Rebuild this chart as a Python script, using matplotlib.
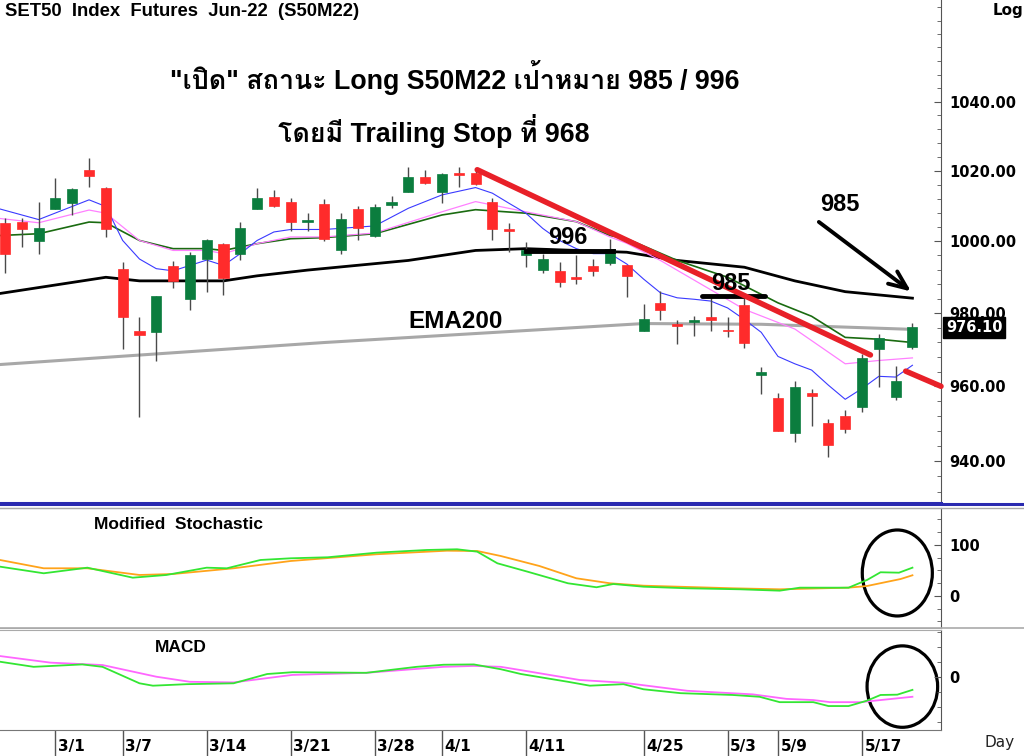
import numpy as np
import matplotlib
matplotlib.use('Agg')
import matplotlib.pyplot as plt
from matplotlib import font_manager as fm
from matplotlib.ft2font import FT2Font
from matplotlib.patches import Ellipse
from matplotlib.lines import Line2D
from matplotlib.ticker import FixedLocator, NullFormatter, FormatStrFormatter

# ---- data ----
# daily candles, index 0 = 2/24 ... 54 = 5/20
opens = [1005.2, 1005.4, 1000.0, 1009.0, 1010.7, 1020.2, 1015.1, 992.3, 975.0, 974.8,
         993.1, 984.0, 995.1, 999.2, 996.4, 1009.0, 1012.6, 1011.2, 1005.4, 1010.6,
         997.4, 1009.1, 1001.6, 1010.2, 1013.9, 1018.3, 1013.9, 1019.2, 1019.3, 1011.1,
         1003.2, 996.0, 991.8, 991.7, 989.9, 993.0, 993.8, 993.3, 975.1, 982.9,
         976.8, 977.4, 978.8, 975.4, 982.3, 963.1, 956.9, 947.4, 958.2, 950.2,
         951.9, 954.3, 970.2, 957.1, 970.8]
highs = [1006.5, 1006.5, 1011.2, 1018.0, 1015.2, 1023.6, 1015.3, 994.1, 978.8, 984.7,
         994.4, 996.9, 1000.6, 999.4, 1005.3, 1015.0, 1014.5, 1012.2, 1008.0, 1011.8,
         1008.0, 1010.0, 1010.6, 1012.7, 1021.0, 1020.3, 1019.3, 1021.0, 1020.6, 1012.2,
         1005.2, 999.7, 996.4, 994.1, 996.0, 995.1, 1000.5, 993.3, 982.4, 986.1,
         978.0, 979.2, 984.3, 978.8, 984.1, 965.2, 958.2, 961.3, 959.4, 951.3,
         953.5, 968.8, 974.1, 965.6, 977.3]
lows = [991.0, 998.3, 996.4, 1009.0, 1007.4, 1015.5, 1001.1, 970.0, 951.8, 966.8,
        986.8, 980.8, 985.7, 985.0, 994.8, 1009.0, 1009.7, 1002.9, 1003.0, 1000.0,
        996.4, 1000.2, 1001.1, 1009.4, 1013.9, 1016.2, 1010.7, 1015.3, 1016.0, 1000.4,
        997.0, 992.7, 991.0, 987.1, 988.0, 990.3, 993.4, 984.3, 975.1, 978.2,
        971.5, 973.8, 975.1, 973.5, 970.5, 957.9, 948.1, 945.1, 949.4, 941.1,
        947.4, 953.2, 959.8, 956.3, 970.2]
closes = [996.3, 1003.4, 1003.6, 1012.3, 1014.7, 1018.4, 1003.5, 978.9, 973.9, 984.7,
          989.0, 996.2, 1000.2, 989.7, 1003.7, 1012.3, 1010.0, 1005.4, 1005.6, 1000.5,
          1006.2, 1003.8, 1009.6, 1011.2, 1018.1, 1016.6, 1019.1, 1018.8, 1016.2, 1003.3,
          1003.0, 997.6, 994.9, 988.5, 989.4, 991.7, 997.9, 990.2, 978.4, 980.9,
          976.4, 978.0, 978.0, 975.0, 971.8, 964.0, 948.1, 959.8, 957.4, 944.4,
          948.5, 967.7, 973.1, 961.3, 976.1]

# moving averages (index, value) read at visible points
ema_fast_x = [-0.3, 2, 5, 6, 7, 8, 9, 10, 11, 12, 13, 14, 15, 16, 17, 19, 22, 24, 26, 28, 29, 30, 31, 32, 33, 34,
              35, 36, 37, 38, 39, 40, 41, 42, 43, 44, 45, 46, 47, 48, 49, 50, 51, 52, 53, 54]
ema_fast_v = [1009.1, 1006.1, 1011.7, 1009.8, 1000.2, 995.0, 992.3, 991.7, 993.2, 994.7, 993.2, 996.5, 1000.2,
              1002.6, 1003.3, 1003.3, 1004.3, 1009.3, 1013.1, 1015.2, 1013.6, 1010.7, 1007.9, 1003.6, 1000.2,
              997.9, 996.5, 996.5, 993.6, 989.4, 985.6, 984.2, 983.8, 983.3, 981.4, 978.2, 974.7, 968.1,
              966.1, 964.4, 960.3, 956.5, 959.4, 962.7, 962.5, 965.7]
ema_mid_x = [-0.3, 2, 5, 6, 8, 10, 12, 13, 15, 17, 19, 22, 26, 28, 31, 34, 36, 37, 39, 44, 47, 50, 52, 54]
ema_mid_v = [1006.4, 1005.2, 1008.8, 1007.9, 1000.2, 997.4, 997.4, 996.5, 999.3, 1001.2, 1001.2, 1002.3,
             1008.3, 1011.2, 1008.3, 1005.5, 1001.2, 999.4, 994.6, 981.0, 975.6, 966.1, 967.0, 967.7]
ema_slow_x = [-0.3, 2, 5, 6, 8, 10, 12, 13, 15, 17, 19, 22, 26, 28, 31, 34, 36, 37, 40, 43, 46, 48, 50, 52, 54]
ema_slow_v = [1001.6, 1002.1, 1005.4, 1005.2, 1000.2, 997.9, 997.9, 997.4, 999.3, 1000.7, 1001.0, 1002.1,
              1007.4, 1008.9, 1007.9, 1005.5, 1001.6, 1000.7, 994.6, 989.9, 982.8, 979.1, 973.3, 972.8, 971.9]
ema50_x = [-0.3, 6, 8, 13, 15, 18, 24, 28, 31, 37, 40, 44, 47, 50, 54]
ema50_v = [985.4, 989.9, 988.9, 988.9, 990.3, 991.9, 994.6, 997.4, 997.9, 996.9, 994.6, 992.7, 988.9, 985.9, 984.1]
ema200_x = [-0.3, 19, 38, 45, 54]
ema200_v = [965.9, 971.9, 977.1, 976.9, 975.5]

# modified stochastic
stoch_k_x = [-0.3, 2.3, 4.9, 7.6, 9.6, 12, 13.2, 15.2, 17, 19.2, 22.1, 25.1, 26.9, 28.1, 29.3, 31.1, 33.5,
             35.2, 36.2, 38, 40.6, 43.75, 46.1, 47.3, 50.2, 51.3, 52.1, 53.2, 54]
stoch_k_v = [57.5, 44.5, 55.5, 35.9, 41.2, 55.5, 54.3, 70.6, 73.9, 75.9, 84.9, 90.2, 91.6, 86.9, 64.1, 47.6,
             24.9, 17.1, 23.5, 18.2, 15.1, 13.1, 10.4, 16.3, 16.3, 31.4, 46.5, 45.7, 55.5]
stoch_d_x = [-0.3, 2.3, 4.9, 8, 10, 13.6, 17, 22.1, 26.3, 28.1, 29.5, 31.8, 34, 36, 38, 43.3, 46.1, 50.2,
             51.3, 53.3, 54]
stoch_d_v = [70.6, 54.3, 54.3, 41.2, 43.1, 54.3, 68.6, 81.8, 88.8, 88.2, 78.4, 58.8, 34.7, 24.9, 20.2, 15.1,
             13.1, 16.3, 19.6, 33.3, 40.6]

# MACD
macd_x = [-0.3, 1.7, 4.6, 5.8, 8.0, 8.8, 10.8, 13.6, 15.6, 17.1, 21.5, 24.5, 26.1, 27.9, 29.5, 30.7, 33.5,
          34.8, 36.8, 38.0, 40.2, 43.3, 44.9, 46.1, 48.1, 49.0, 50.2, 51.3, 52.1, 53.1, 54.0]
macd_v = [5.0, 3.3, 4.1, 3.3, -2.2, -3.0, -2.5, -2.2, 0.9, 1.5, 1.3, 3.3, 4.0, 4.1, 2.5, 0.9, -1.7, -3.0,
          -2.5, -4.2, -5.5, -6.1, -6.7, -8.5, -8.5, -9.8, -9.8, -8.0, -6.1, -6.0, -4.4]
signal_x = [-0.3, 2.7, 5.8, 9.0, 11.0, 13.6, 17.1, 21.5, 26.1, 27.9, 29.5, 30.7, 34.2, 36.8, 40.6, 44.5,
            46.5, 48.1, 49.1, 50.9, 54.0]
signal_v = [6.9, 4.7, 3.9, 0.0, -1.7, -1.9, 0.6, 1.3, 3.3, 3.6, 3.3, 2.2, -1.1, -2.0, -4.7, -5.9, -7.4,
            -7.8, -8.5, -8.5, -6.7]

date_idx = [3, 7, 12, 17, 22, 26, 31, 38, 43, 46, 51]
date_lbl = ['3/1', '3/7', '3/14', '3/21', '3/28', '4/1', '4/11', '4/25', '5/3', '5/9', '5/17']
price_ticks = [940, 960, 980, 1000, 1020, 1040]


def thai_font():
    for f in fm.fontManager.ttflist:
        try:
            ft = FT2Font(f.fname)
            if ft.get_char_index(0x0E40) and ft.get_char_index(0x0E2A):
                return f.name
        except Exception:
            pass
    return None


thai = thai_font()
title_fam = ['Liberation Sans', thai] if thai else ['Liberation Sans', 'DejaVu Sans']
arial = ['Liberation Sans', 'DejaVu Sans']

W, H = 1024, 756
fig = plt.figure(figsize=(W / 100, H / 100), dpi=100)
right = 941 / W


def fy(y):
    return 1 - y / H


ax = fig.add_axes([0, fy(503), right, 503 / H])
ax_st = fig.add_axes([0, fy(627.5), right, 120 / H])
ax_m = fig.add_axes([0, fy(730), right, 100 / H])

green = '#0b7d3e'
red = '#ff2b2b'
xs = np.arange(len(opens))
o = np.array(opens); c = np.array(closes)
up = c >= o
body_lo = np.minimum(o, c)
body_h = np.maximum(np.abs(c - o), 0.45)
cols = np.where(up, green, red)
ax.vlines(xs, lows, highs, color='#4a4a4a', lw=1.0, zorder=3)
ax.bar(xs, body_h, bottom=body_lo, width=0.6, color=cols, edgecolor=cols, lw=0.5, zorder=4)

ax.plot(ema200_x, ema200_v, color='#a8a8a8', lw=2.2, zorder=2)
ax.plot(ema50_x, ema50_v, color='black', lw=2.0, zorder=2)
ax.plot(ema_slow_x, ema_slow_v, color='#1a6b10', lw=1.2, zorder=2)
ax.plot(ema_mid_x, ema_mid_v, color='#ff80ff', lw=0.9, zorder=2)
ax.plot(ema_fast_x, ema_fast_v, color='#3a3aff', lw=0.8, zorder=2)

# trend line and levels
ax.plot([28.1, 51.5], [1020.3, 968.5], color='#e82028', lw=4, solid_capstyle='round', zorder=6)
ax.plot([53.6, 55.7], [964.1, 960.0], color='#e82028', lw=4, solid_capstyle='round', zorder=6, clip_on=False)
ax.plot([31.0, 36.2], [997.3, 997.3], color='black', lw=3.5, zorder=5)
ax.plot([41.5, 45.2], [984.7, 984.7], color='black', lw=3.5, solid_capstyle='round', zorder=5)
ax.text(33.5, 1000.9, '996', fontsize=17, fontweight='bold', family=arial, ha='center', va='center', zorder=7)
ax.text(43.2, 988.3, '985', fontsize=17, fontweight='bold', family=arial, ha='center', va='center', zorder=7)
ax.text(49.7, 1010.3, '985', fontsize=17, fontweight='bold', family=arial, ha='center', va='center', zorder=7)
ax.annotate('', xy=(54.05, 985.5), xytext=(48.3, 1005.9),
            arrowprops=dict(arrowstyle='->,head_length=1.3,head_width=0.55', lw=2.8, color='black'), zorder=7)
ax.text(26.8, 977.6, 'EMA200', fontsize=17.5, fontweight='bold', family=arial,
        ha='center', va='center', zorder=7)

ax.set_yscale('log')
ax.set_ylim(929.0, 1070.2)
ax.set_xlim(-0.3, 55.7)
ax.yaxis.set_major_locator(FixedLocator(price_ticks))
ax.yaxis.set_major_formatter(FormatStrFormatter('%.2f'))
ax.yaxis.set_minor_locator(FixedLocator(np.arange(932, 1070, 4)))
ax.yaxis.set_minor_formatter(NullFormatter())

# price tag
ax.text(56.0, 976.1, '976.10', color='white', fontsize=10.5, fontweight='bold', ha='left', va='center',
        bbox=dict(boxstyle='square,pad=0.2', fc='black', ec='black'), zorder=10, clip_on=False)

# stochastic
ax_st.plot(stoch_d_x, stoch_d_v, color='#ffa31a', lw=1.3)
ax_st.plot(stoch_k_x, stoch_k_v, color='#33e633', lw=1.3)
ax_st.set_ylim(-61.8, 173.5)
ax_st.set_xlim(-0.3, 55.7)
ax_st.yaxis.set_major_locator(FixedLocator([0, 100]))
ax_st.yaxis.set_minor_locator(FixedLocator(np.arange(-50, 175, 25)))
ax_st.add_patch(Ellipse((53.1, 45.1), 4.17, 168.6, fill=False, ec='black', lw=2.3, clip_on=False))
ax_st.text(0.1, 0.86, 'Modified  Stochastic', transform=ax_st.transAxes, fontsize=12.5, fontweight='bold',
           family=arial, va='center')

# macd
ax_m.plot(signal_x, signal_v, color='#ff66ff', lw=1.3)
ax_m.plot(macd_x, macd_v, color='#33e633', lw=1.3)
ax_m.set_ylim(-17.8, 15.6)
ax_m.set_xlim(-0.3, 55.7)
ax_m.yaxis.set_major_locator(FixedLocator([0]))
ax_m.yaxis.set_minor_locator(FixedLocator(np.arange(-15, 16, 5)))
ax_m.add_patch(Ellipse((53.4, -3.3), 4.2, 27.2, fill=False, ec='black', lw=2.3, clip_on=False))
ax_m.text(0.165, 0.83, 'MACD', transform=ax_m.transAxes, fontsize=12.5, fontweight='bold',
          family=arial, va='center')

for a in (ax, ax_st, ax_m):
    a.yaxis.tick_right()
    a.spines['left'].set_visible(False)
    a.spines['right'].set_color('#555555')
    a.spines['top'].set_color('#aaaaaa')
    a.spines['bottom'].set_color('#aaaaaa')
    a.tick_params(axis='y', which='major', direction='in', length=5, color='#555555', pad=6,
                  labelsize=10.5)
    a.tick_params(axis='y', which='minor', direction='in', length=3, color='#555555')
    a.tick_params(axis='x', which='both', bottom=False, labelbottom=False)
    for t in a.get_yticklabels():
        t.set_fontweight('bold')
ax.spines['top'].set_visible(False)
ax.spines['bottom'].set_color('#2a2ab0')
ax.spines['bottom'].set_linewidth(2.2)
ax_m.spines['bottom'].set_color('#777777')

# date axis
ax_m.set_xticks(date_idx)
ax_m.tick_params(axis='x', which='major', bottom=True, length=26, width=1, color='#555555',
                 direction='out', labelbottom=False)
for i, lbl in zip(date_idx, date_lbl):
    ax_m.text(i + 0.15, -0.16, lbl, transform=ax_m.get_xaxis_transform(), fontsize=11,
              fontweight='bold', ha='left', va='center', clip_on=False)

# separators across full width
fig.add_artist(Line2D([0, 1], [fy(504), fy(504)], color='#2a2ab0', lw=2.2))
fig.add_artist(Line2D([0, 1], [fy(507.8), fy(507.8)], color='#aaaaaa', lw=1))
fig.add_artist(Line2D([0, 1], [fy(628.2), fy(628.2)], color='#aaaaaa', lw=1.2))

fig.text(5 / W, fy(11), 'SET50  Index  Futures  Jun-22  (S50M22)', fontsize=13.3, fontweight='bold',
         family=arial, va='center', ha='left')
fig.text(993 / W, fy(11), 'Log', fontsize=11, fontweight='bold', va='center', ha='left')
fig.text(985 / W, fy(742), 'Day', fontsize=11, va='center', ha='left', color='#222222')
fig.text(455 / W, fy(78), '"เปิด" สถานะ Long S50M22 เป้าหมาย 985 / 996', fontsize=19.3, fontweight='bold',
         family=title_fam, ha='center', va='center')
fig.text(434 / W, fy(131), 'โดยมี Trailing Stop ที่ 968', fontsize=19.3, fontweight='bold',
         family=title_fam, ha='center', va='center')

fig.savefig('out.png', dpi=100)
